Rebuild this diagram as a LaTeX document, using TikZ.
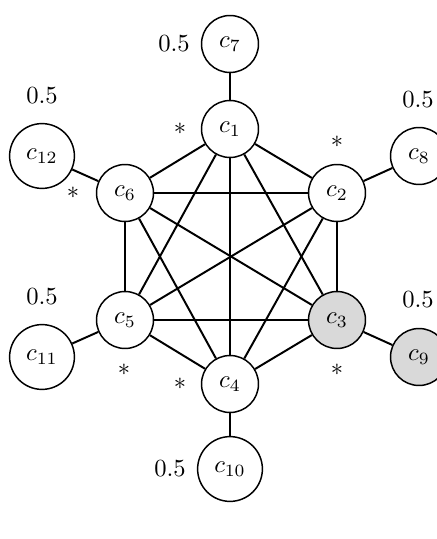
\documentclass[tikz,border=0pt]{standalone}
\usepackage{amsmath,amssymb}
\usepackage{tikz}
\usetikzlibrary{positioning,calc}

\begin{document}
\begin{tikzpicture}[x=0.1428mm,y=-0.1428mm,
    vertex/.style={circle,draw,semithick,fill=white,inner sep=4.5pt,minimum size=0.72cm},
    marked/.style={vertex,fill=gray!30},
    edge/.style={thick}]
    \useasboundingbox (0,0) rectangle (437,539);

    % Clique vertices (hexagon)
    \node[vertex] (c1) at (230,129) {$c_1$};
    \node[vertex] (c2) at (337,193) {$c_2$};
    \node[marked] (c3) at (337,320) {$c_3$};
    \node[vertex] (c4) at (230,384) {$c_4$};
    \node[vertex] (c5) at (125,320) {$c_5$};
    \node[vertex] (c6) at (125,193) {$c_6$};

    % Pendant vertices
    \node[vertex] (c7) at (230,44) {$c_7$};
    \node[vertex] (c8) at (419,156) {$c_8$};
    \node[marked] (c9) at (419,357) {$c_9$};
    \node[vertex] (c10) at (230,469) {$c_{10}$};
    \node[vertex] (c11) at (42,357) {$c_{11}$};
    \node[vertex] (c12) at (42,156) {$c_{12}$};

    % Clique edges
    \foreach \a/\b in {c1/c2,c1/c3,c1/c4,c1/c5,c1/c6,c2/c3,c2/c4,c2/c5,c2/c6,
                       c3/c4,c3/c5,c3/c6,c4/c5,c4/c6,c5/c6}
        \draw[edge] (\a) -- (\b);

    % Pendant edges
    \foreach \a/\b in {c1/c7,c2/c8,c3/c9,c4/c10,c5/c11,c6/c12}
        \draw[edge] (\a) -- (\b);

    % Weights
    \node (w7) at (174,44) {$0.5$};
    \node (w8) at (418,100) {$0.5$};
    \node (w9) at (418,300) {$0.5$};
    \node (w10) at (170,469) {$0.5$};
    \node (w11) at (42,297) {$0.5$};
    \node (w12) at (42,96) {$0.5$};

    % Stars
    \node (s1) at (180,129) {$*$};
    \node (s2) at (337,142) {$*$};
    \node (s3) at (337,370) {$*$};
    \node (s4) at (180,384) {$*$};
    \node (s5) at (124,370) {$*$};
    \node (s6) at (73,193) {$*$};
\end{tikzpicture}
\end{document}
